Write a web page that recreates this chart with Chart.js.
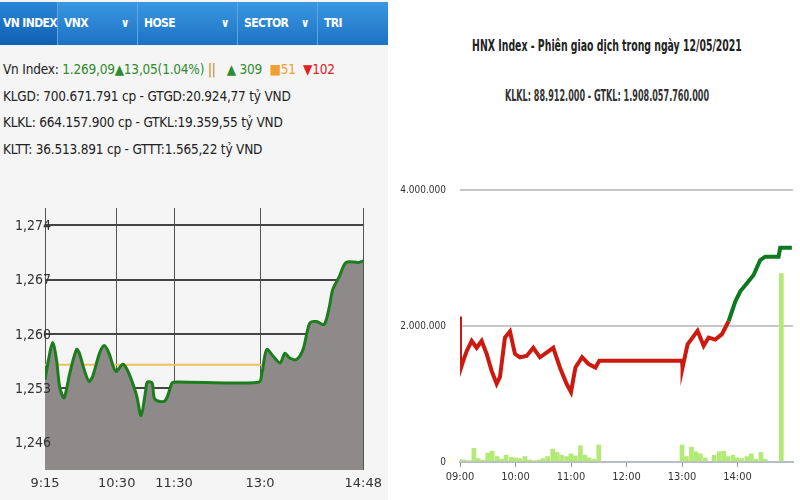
<!DOCTYPE html>
<html><head><meta charset="utf-8">
<script src="https://cdn.jsdelivr.net/npm/chart.js@4.4.1/dist/chart.umd.min.js"></script>
<style>
  body { margin: 0; width: 800px; height: 500px; position: relative; background: #fff; overflow: hidden; font-family: "DejaVu Sans Condensed", "DejaVu Sans", sans-serif; }
  #left { position: absolute; left: 0; top: 0; width: 388px; height: 500px; background: #f5f5f5; }
  #tabs { position: absolute; left: 0; top: 2px; width: 388px; height: 43px; background: linear-gradient(#3a97e0, #1d72c4); display: flex; }
  .tab { color: #fff; font-weight: bold; font-size: 12px; line-height: 43px; padding-left: 6px; border-right: 1px solid #5aa6e6; box-sizing: border-box; position: relative; white-space: nowrap; letter-spacing: -0.6px; }
  .tab.on { background: linear-gradient(#2a86d6, #1060b4); padding-left: 3px; }
  .tab .v { position: absolute; right: 8px; top: 0; font-size: 12px; }
  .info { position: absolute; left: 3px; font-size: 13.5px; color: #222; white-space: nowrap; letter-spacing: -0.2px; }
  #cl { position: absolute; left: 0; top: 190px; width: 388px; height: 310px; }
  #cr { position: absolute; left: 400px; top: 170px; width: 400px; height: 330px; }
  .title { position: absolute; left: 307px; width: 600px; text-align: center; color: #222; white-space: nowrap; font-family: "DejaVu Sans Condensed", sans-serif; font-weight: bold; }
</style></head><body>
<div id="left">
  <div id="tabs">
    <div class="tab on" style="width:58px">VN INDEX</div>
    <div class="tab" style="width:80px">VNX<span class="v">&#8744;</span></div>
    <div class="tab" style="width:100px">HOSE<span class="v">&#8744;</span></div>
    <div class="tab" style="width:80px">SECTOR<span class="v">&#8744;</span></div>
    <div class="tab" style="width:70px;border-right:none">TRI</div>
  </div>
  <div class="info" style="top:61px">Vn Index: <span style="color:#2e8b2e">1.269,09&#9650;13,05(1.04%)</span> <span style="color:#b8860b">||</span> &nbsp; <span style="color:#2e8b2e">&#9650; 309</span> &nbsp;<span style="color:#f0a030">&#9632;51</span> &nbsp;<span style="color:#e02020">&#9660;102</span></div>
  <div class="info" style="top:88px">KLGD: 700.671.791 cp - GTGD:20.924,77 tỷ VND</div>
  <div class="info" style="top:114px">KLKL: 664.157.900 cp - GTKL:19.359,55 tỷ VND</div>
  <div class="info" style="top:141px">KLTT: 36.513.891 cp - GTTT:1.565,22 tỷ VND</div>
  <div id="cl"><canvas id="c1"></canvas></div>
</div>
<div class="title" style="top:36px;font-size:16px;transform:scaleX(0.65)">HNX Index - Phiên giao dịch trong ngày 12/05/2021</div>
<div class="title" style="top:87px;font-size:15px;color:#333;transform:scaleX(0.6)">KLKL: 88.912.000 - GTKL: 1.908.057.760.000</div>
<div id="cr"><canvas id="c2"></canvas></div>
<script>
// ---- VN Index (minutes since 9:15) ----
var vnTicks = [0, 75, 135, 225, 333];
var vnTickLabels = ["9:15", "10:30", "11:30", "13:0", "14:48"];
var vnYTicks = [1246, 1253, 1260, 1267, 1274];
var vnYLabels = ["1,246", "1,253", "1,260", "1,267", "1,274"];
var vnRef = 1256.04;
var vnT = [0, 3.4, 8, 12, 15.5, 20, 26, 33, 36, 41, 46, 50, 57, 62, 67, 74, 81.5, 86, 91, 96, 100.5, 105, 107, 112, 115, 125.5, 132.5, 134, 223.6, 227, 232, 239, 246, 251, 256, 263, 270, 277, 284, 292, 297.5, 301, 308, 315, 328, 333];
var vnV = [1254.1, 1256.5, 1258.9, 1256.7, 1253.1, 1251.8, 1255, 1258, 1257.5, 1255.4, 1253.9, 1254.6, 1257.5, 1258.5, 1257.5, 1255.2, 1256.1, 1255.4, 1253.9, 1252, 1249.5, 1252.4, 1253.8, 1253.7, 1251.6, 1251.4, 1253.6, 1253.8, 1253.8, 1255, 1258, 1257.1, 1256.3, 1257.5, 1256.9, 1256.7, 1258, 1261.4, 1261.6, 1261.2, 1263.5, 1265.7, 1267.4, 1269.2, 1269.2, 1269.4];

// ---- HNX (hours) ----
var hnxT = [9, 9.0, 9.06, 9.12, 9.21, 9.30, 9.39, 9.48, 9.57, 9.66, 9.72, 9.81, 9.90, 9.99, 10.08, 10.20, 10.32, 10.44, 10.56, 10.68, 10.80, 10.92, 11.0, 11.08, 11.20, 11.32, 11.44, 11.51, 13.0, 13.01, 13.10, 13.19, 13.28, 13.39, 13.48, 13.60, 13.72, 13.84, 13.96, 14.05, 14.17, 14.29, 14.41, 14.50, 14.74, 14.77, 14.98];
var hnxV = [2.14, 1.34, 1.49, 1.63, 1.78, 1.68, 1.78, 1.59, 1.34, 1.15, 1.25, 1.83, 1.92, 1.59, 1.54, 1.56, 1.68, 1.54, 1.61, 1.68, 1.39, 1.15, 1.03, 1.39, 1.54, 1.44, 1.39, 1.49, 1.49, 1.39, 1.73, 1.83, 1.93, 1.71, 1.83, 1.80, 1.88, 2.07, 2.36, 2.51, 2.63, 2.75, 2.97, 3.02, 3.02, 3.15, 3.15];
var volT = [9.0, 9.08, 9.17, 9.25, 9.33, 9.42, 9.5, 9.58, 9.67, 9.75, 9.83, 9.92, 10.0, 10.08, 10.17, 10.25, 10.33, 10.42, 10.5, 10.58, 10.67, 10.75, 10.83, 10.92, 11.0, 11.08, 11.17, 11.25, 11.33, 11.42, 11.5, 13.0, 13.08, 13.17, 13.25, 13.33, 13.42, 13.58, 13.67, 13.75, 13.83, 13.92, 14.0, 14.08, 14.17, 14.25, 14.33, 14.42, 14.5, 14.79];
var volV = [0.04, 0.03, 0.02, 0.2, 0.05, 0.03, 0.13, 0.16, 0.08, 0.04, 0.1, 0.07, 0.06, 0.05, 0.08, 0.03, 0.02, 0.03, 0.05, 0.08, 0.19, 0.14, 0.1, 0.08, 0.12, 0.09, 0.24, 0.1, 0.06, 0.04, 0.25, 0.25, 0.08, 0.22, 0.15, 0.12, 0.06, 0.1, 0.15, 0.16, 0.08, 0.1, 0.06, 0.05, 0.08, 0.12, 0.04, 0.14, 0.04, 2.77];
var hnxYTicks = [0, 2, 4];
var hnxYLabels = ["0", "2.000.000", "4.000.000"];
var hnxXTicks = [9, 10, 11, 12, 13, 14];
var hnxXLabels = ["09:00", "10:00", "11:00", "12:00", "13:00", "14:00"];

function pts(xs, ys) { return xs.map(function (x, i) { return { x: x, y: ys[i] }; }); }
function fixTicks(vals) { return function (s) { s.ticks = vals.map(function (v) { return { value: v }; }); }; }

// y labels of the VN chart sit on top of the filled area
var overLabels = {
  id: "overLabels",
  afterDatasetsDraw: function (chart) {
    var y = chart.scales.y, ctx = chart.ctx;
    ctx.save();
    ctx.font = "14px 'DejaVu Sans Condensed'";
    ctx.fillStyle = "#333";
    ctx.textAlign = "left";
    ctx.textBaseline = "middle";
    vnYTicks.forEach(function (v, i) { ctx.fillText(vnYLabels[i], 15, y.getPixelForValue(v) + 1); });
    ctx.restore();
  }
};

new Chart(document.getElementById("c1"), {
  type: "line",
  data: { datasets: [
    { data: pts(vnT, vnV), borderColor: "#1b7d1b", borderWidth: 3, backgroundColor: "#8e8a8a", fill: "start", pointRadius: 0, tension: 0.3 },
    { data: [{ x: 0, y: vnRef }, { x: 333, y: vnRef }], borderColor: "#f0c060", borderWidth: 2, pointRadius: 0, fill: false }
  ] },
  options: {
    responsive: true, maintainAspectRatio: false, animation: false,
    layout: { padding: { top: 18, right: 20 } },
    plugins: { legend: { display: false }, tooltip: { enabled: false } },
    scales: {
      x: { type: "linear", min: 0, max: 333, afterBuildTicks: fixTicks(vnTicks), afterFit: function (s) { s.height = 30; },
           grid: { color: "#555", lineWidth: 1, drawTicks: false }, border: { display: false },
           ticks: { color: "#333", font: { family: "DejaVu Sans", size: 13 }, padding: 6, maxRotation: 0, callback: function (v) { return vnTickLabels[vnTicks.indexOf(v)]; } } },
      y: { min: 1242.5, max: 1276.2, afterBuildTicks: fixTicks(vnYTicks), afterFit: function (s) { s.width = 45; },
           grid: { color: "#444", lineWidth: 2, drawTicks: false }, border: { display: false },
           ticks: { display: false } }
    }
  },
  plugins: [overLabels]
});

new Chart(document.getElementById("c2"), {
  data: { datasets: [
    { type: "line", data: pts(hnxT, hnxV), borderWidth: 4, pointRadius: 0, fill: false,
      segment: { borderColor: function (c) { return (c.p0.parsed.y >= 1.9 && c.p1.parsed.y >= 1.9) ? "#0e7a1e" : "#cc1a10"; } } },
    { type: "bar", data: pts(volT, volV), backgroundColor: "#b3ea75", barThickness: 4, grouped: false }
  ] },
  options: {
    responsive: true, maintainAspectRatio: false, animation: false,
    layout: { padding: { top: 17, right: 7 } },
    plugins: { legend: { display: false }, tooltip: { enabled: false } },
    scales: {
      x: { type: "linear", min: 9, max: 15, offset: false, afterBuildTicks: fixTicks(hnxXTicks), afterFit: function (s) { s.height = 38; },
           grid: { display: true, drawOnChartArea: false, drawTicks: true, tickLength: 5, color: "#999", offset: false }, border: { display: true, color: "#b8bcc8", width: 2 },
           ticks: { color: "#333", font: { family: "DejaVu Sans Condensed", size: 11 }, padding: 4, maxRotation: 0, callback: function (v) { return hnxXLabels[hnxXTicks.indexOf(v)]; } } },
      y: { min: 0, max: 4, afterBuildTicks: fixTicks(hnxYTicks), afterFit: function (s) { s.width = 60; },
           grid: { color: "#c8c8cc", lineWidth: 2, drawTicks: false }, border: { display: false },
           ticks: { color: "#333", font: { family: "DejaVu Sans Condensed", size: 10 }, padding: 14, callback: function (v) { return hnxYLabels[hnxYTicks.indexOf(v)]; } } }
    }
  }
});
</script>
</body></html>
